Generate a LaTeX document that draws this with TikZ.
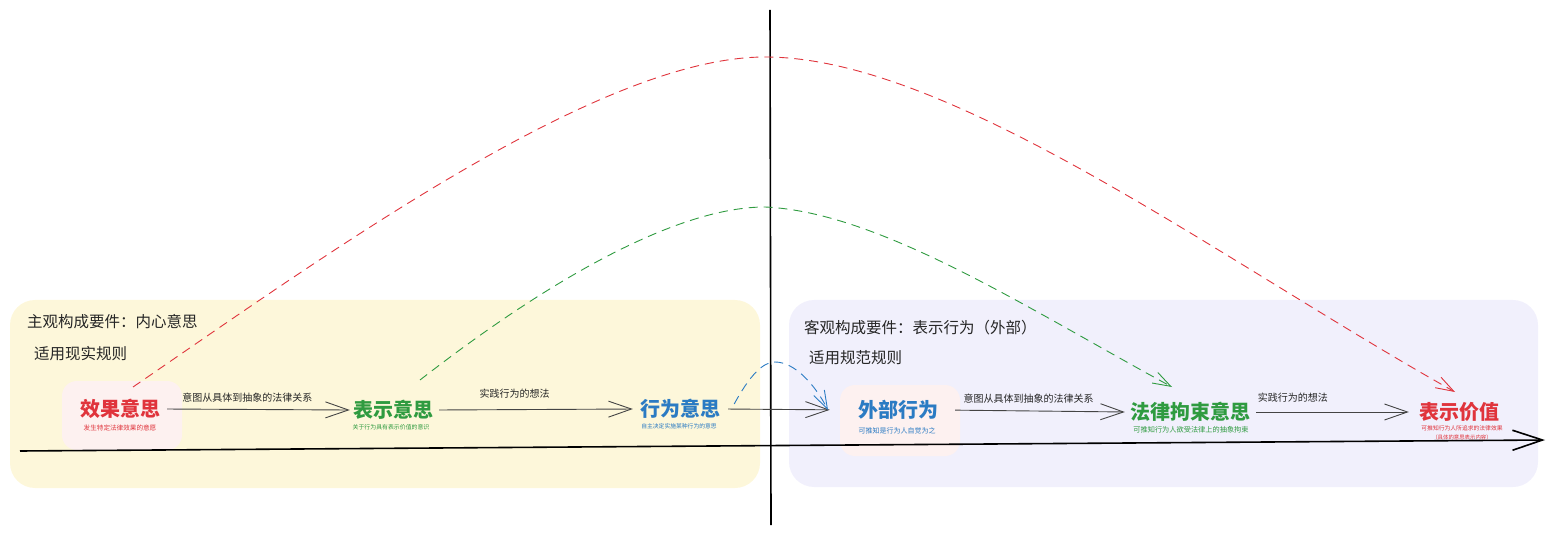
\documentclass[tikz,border=0pt]{standalone}
\usepackage{fontspec}
\newfontfamily\cjk{Noto Sans CJK SC}
\usetikzlibrary{arrows.meta}
\definecolor{cred}{HTML}{E0343C}
\definecolor{cgreen}{HTML}{2F9B40}
\definecolor{cblue}{HTML}{2B7BC3}
\definecolor{cyel}{HTML}{FDF7DA}
\definecolor{clav}{HTML}{F1F0FC}
\definecolor{cpink}{HTML}{FDF1F0}
\definecolor{cgray}{HTML}{444444}
\definecolor{ctext}{HTML}{262626}
\begin{document}
\begin{tikzpicture}[x=1pt,y=-1pt,
  every node/.style={font=\cjk},
  region/.style={draw=none, rounded corners=25pt},
  pinkbox/.style={fill=cpink, draw=none, rounded corners=15pt},
  title/.style={font=\cjk\fontsize{15.5}{18}\selectfont, text=ctext, anchor=west, inner sep=0pt},
  mainlab/.style={font=\cjk\bfseries\fontsize{20}{24}\selectfont, inner sep=4pt},
  sublab/.style={inner sep=0pt},
  arrlab/.style={font=\cjk\fontsize{10}{12}\selectfont, text=ctext, inner sep=0pt},
  parr/.style={draw=cgray, line width=0.9pt, -{Straight Barb[length=23pt,width=16pt,line width=0.9pt]}},
  dcurve/.style={line width=0.9pt, dash pattern=on 9pt off 6pt, -{Straight Barb[length=18pt,width=12pt,line width=0.9pt,sep=0pt]}},
]
\useasboundingbox (0,0) rectangle (1552,534);
% regions
\fill[cyel, region] (10,300) rectangle (760,488);
\fill[clav, region] (789,300) rectangle (1538,487);
\node[title] (t1) at (27,322) {主观构成要件：内心意思};
\node[title] (t2) at (34,354) {适用现实规则};
\node[title] (t3) at (804,328) {客观构成要件：表示行为（外部）};
\node[title] (t4) at (809,358) {适用规范规则};
% pink boxes
\fill[pinkbox] (62,381) rectangle (182,450);
\fill[pinkbox] (840,385) rectangle (960,456);
% axes
\coordinate (vt) at (770,10);
\coordinate (vb) at (771,525);
\coordinate (hl) at (20,451);
\coordinate (hr) at (1545,440);
\draw[black, line width=1.6pt] (vt) -- (vb);
\draw[black, line width=1.6pt, -{Straight Barb[length=30pt,width=20pt,line width=1.6pt]}] (hl) -- (hr);
% main nodes
\node[mainlab, text=cred] (xg) at (120,409) {效果意思};
\node[sublab, text=cred, font=\cjk\fontsize{6.6}{8}\selectfont] (xgs) at (120,428) {发生特定法律效果的意愿};
\node[mainlab, text=cgreen] (bs) at (393,410) {表示意思};
\node[sublab, text=cgreen, font=\cjk\fontsize{5.9}{7}\selectfont] (bss) at (391,427) {关于行为具有表示价值的意识};
\node[mainlab, text=cblue] (xw) at (680,409) {行为意思};
\node[sublab, text=cblue, font=\cjk\fontsize{5.8}{7}\selectfont] (xws) at (679,426) {自主决定实施某种行为的意思};
\node[mainlab, text=cblue] (wb) at (898,410) {外部行为};
\node[sublab, text=cblue, font=\cjk\fontsize{7}{8}\selectfont] (wbs) at (897,431) {可推知是行为人自觉为之};
\node[mainlab, text=cgreen] (fl) at (1190,412) {法律拘束意思};
\node[sublab, text=cgreen, font=\cjk\fontsize{7.2}{8}\selectfont] (fls) at (1191,430) {可推知行为人欲受法律上的抽象拘束};
\node[mainlab, text=cred] (bj) at (1459,412) {表示价值};
\node[sublab, text=cred, font=\cjk\fontsize{5.8}{7}\selectfont] (bjs1) at (1462,428) {可推知行为人所追求的法律效果};
\node[sublab, text=cred, font=\cjk\fontsize{5.4}{6.5}\selectfont] (bjs2) at (1462,437) {（具体的意思表示内容）};
% process arrows
\draw[parr, shorten <=3pt, shorten >=-1pt] (xg.east) -- node[arrlab, pos=0.45, above=7pt] (l1) {意图从具体到抽象的法律关系} (bs.west);
\draw[parr, shorten <=2pt, shorten >=3pt] (bs.east) -- node[arrlab, pos=0.39, above=11pt] (l2) {实践行为的想法} (xw.west);
\draw[parr, shorten <=4pt, shorten >=24pt] (xw.east) -- (wb.west);
\draw[parr, shorten <=13pt, shorten >=1pt] (wb.east) -- node[arrlab, pos=0.47, above=7pt] (l3) {意图从具体到抽象的法律关系} (fl.west);
\draw[parr, shorten <=2pt, shorten >=6pt] (fl.east) -- node[arrlab, pos=0.24, above=9pt] (l4) {实践行为的想法} (bj.west);
% dashed curves
\draw[dcurve, cred] ([shift={(13,-22)}]xg.center) .. controls (330,252) and (600,57) .. (765,57)
   .. controls (950,57) and (1220,260) .. ([shift={(-4,-20)}]bj.center);
\draw[dcurve, cgreen] ([shift={(27,-30)}]bs.center) .. controls (555,275) and (680,207) .. (765,207)
   .. controls (880,212) and (1030,310) .. ([shift={(-18,-25)}]fl.center);
\draw[dcurve, cblue] ([shift={(10,-5)}]xw.east) .. controls (750,375) and (763,362) .. (775,362)
   .. controls (795,362) and (815,385) .. ([shift={(-70,0)}]wb.center);
\end{tikzpicture}
\end{document}
